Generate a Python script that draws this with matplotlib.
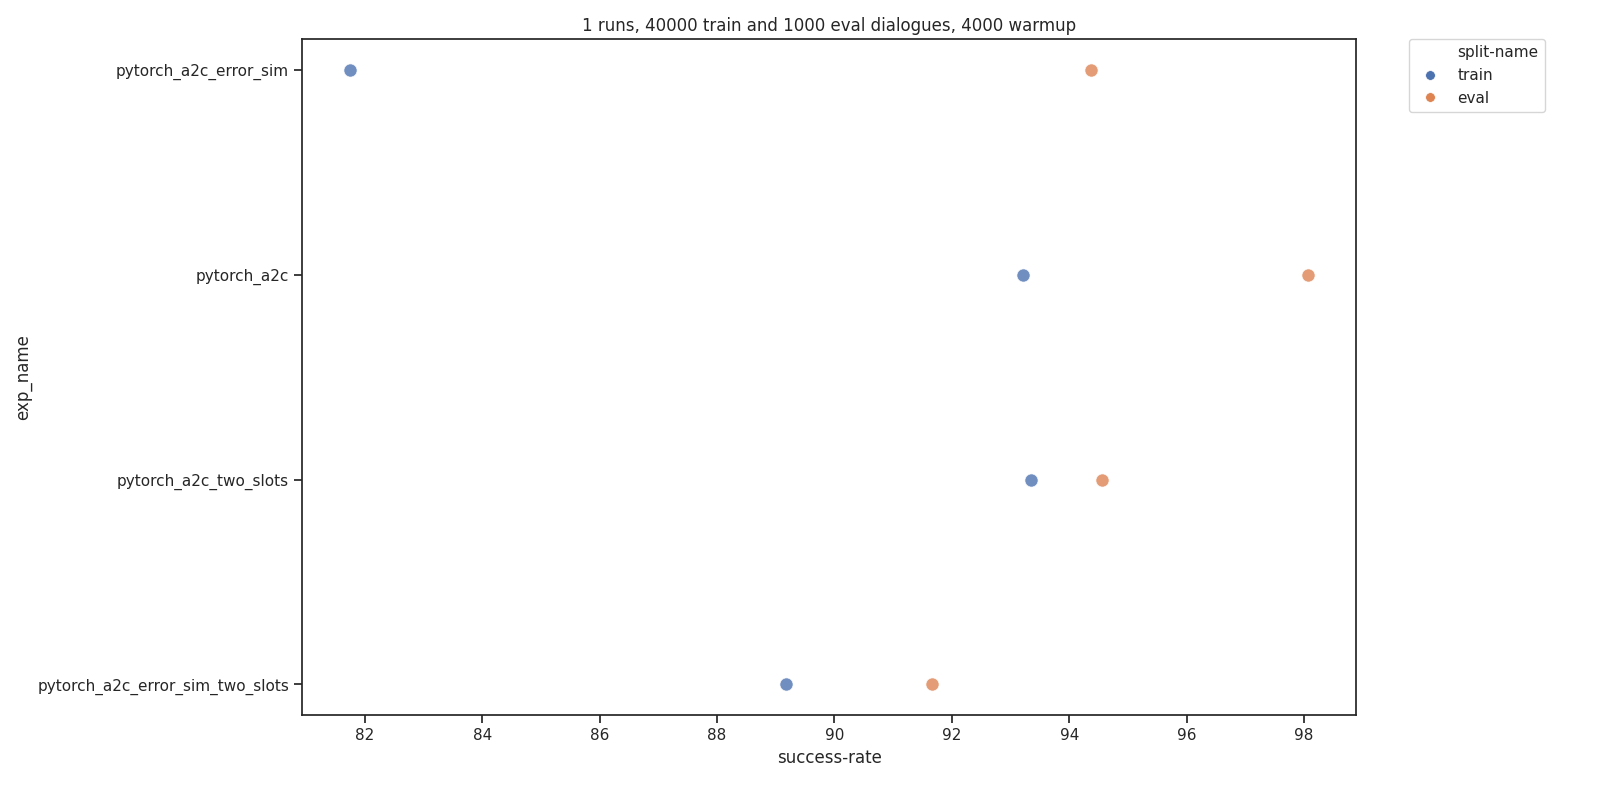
import matplotlib
matplotlib.use("Agg")
import matplotlib.pyplot as plt
import seaborn as sns
from matplotlib.lines import Line2D

sns.set_theme(style="ticks")
plt.rcParams['font.family'] = ['DejaVu Sans']

exp_names = ["pytorch_a2c_error_sim", "pytorch_a2c",
             "pytorch_a2c_two_slots", "pytorch_a2c_error_sim_two_slots"]
train_rate = [81.75, 93.22, 93.35, 89.17]
eval_rate = [94.37, 98.07, 94.56, 91.67]

palette = sns.color_palette("deep")

fig, ax = plt.subplots(figsize=(16, 8), dpi=100)
fig.subplots_adjust(left=0.189, right=0.8475, top=0.951, bottom=0.106)

ax.scatter(train_rate, exp_names, s=90, color=palette[0], alpha=0.8,
           edgecolor="white", linewidth=0.6, zorder=3)
ax.scatter(eval_rate, exp_names, s=90, color=palette[1], alpha=0.8,
           edgecolor="white", linewidth=0.6, zorder=3)
ax.invert_yaxis()

ax.set_xlabel("success-rate")
ax.set_ylabel("exp_name")
ax.set_title("1 runs, 40000 train and 1000 eval dialogues, 4000 warmup")

handles = [
    Line2D([], [], linestyle="none", marker=None),
    Line2D([], [], linestyle="none", marker="o", markersize=7,
           color=palette[0], markeredgecolor="white", markeredgewidth=0.5),
    Line2D([], [], linestyle="none", marker="o", markersize=7,
           color=palette[1], markeredgecolor="white", markeredgewidth=0.5),
]
ax.legend(handles, ["split-name", "train", "eval"],
          bbox_to_anchor=(1.05, 1), loc=2, borderaxespad=0.)

plt.savefig("out.png")
